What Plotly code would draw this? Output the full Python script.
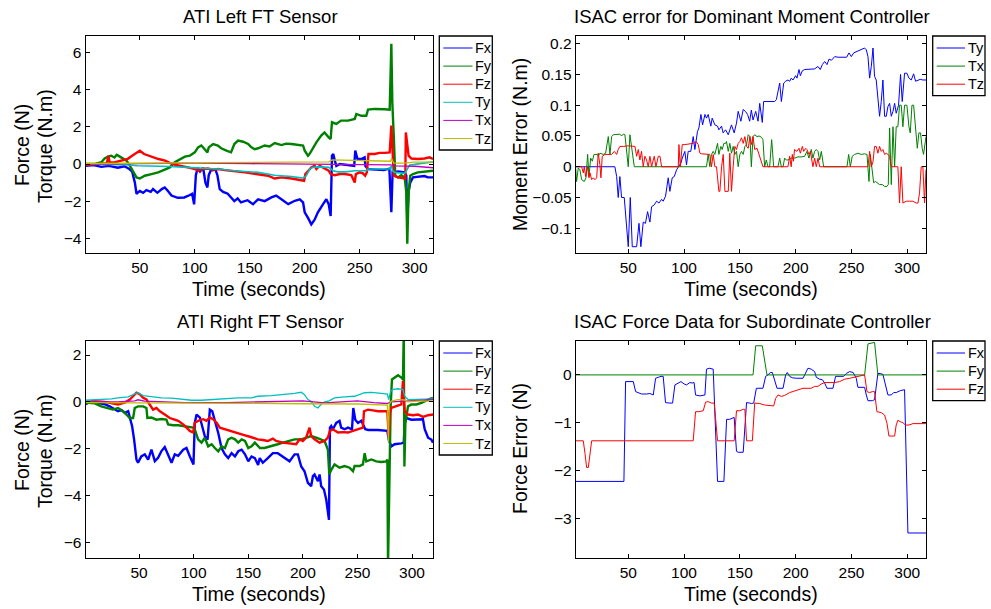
import plotly.graph_objects as go

W, H = 991, 609
FONT = "Liberation Sans, Arial, Helvetica, sans-serif"

# ---------------- data: ATI Left FT Sensor (time s, value) ----------------
LEFT_FX = [(0.6,-0.1),(8,-0.05),(15,-0.15),(22,-0.1),(30,-0.2),(36,-0.12),(40,-0.25),(43,-0.4),(45.5,-1.0),(47,-1.6),(50,-1.45),(53,-1.55),(56,-1.4),(60,-1.5),(62,-1.35),(66,-1.55),(70,-1.35),(72.7,-1.26),(75.6,-1.45),(78.8,-1.7),(84.5,-1.82),(90.5,-1.8),(95,-1.68),(97.6,-1.6),(99.4,-2.17),(101,-0.6),(102.7,-0.2),(104.8,-0.4),(107.6,-0.2),(109.7,-1.0),(111.5,-1.26),(112.7,-0.6),(114.5,-0.35),(118.8,-0.3),(120.6,-0.6),(122.7,-1.35),(125.8,-1.5),(130,-1.6),(133,-1.8),(136,-2.0),(139,-1.85),(142,-2.07),(148,-1.95),(153,-2.16),(157.6,-1.9),(163.6,-2.0),(169.7,-1.8),(174,-1.7),(178.8,-1.9),(185,-2.16),(191,-1.98),(195.5,-1.9),(198.5,-2.07),(200,-2.6),(203,-2.9),(206,-3.25),(209,-3.0),(212,-2.6),(216.7,-2.16),(219.7,-1.9),(221.8,-2.16),(223.6,-2.8),(224.8,0.45),(226,0.54),(227.3,0.2),(228.8,-0.1),(232,0.0),(240,-0.05),(245,-0.1),(246,0.72),(248,0.27),(251.5,0.27),(254.5,0.36),(255.2,-0.1),(257.6,-0.27),(265,-0.3),(272,-0.32),(277,-0.25),(278.8,-2.6),(280,-0.35),(281.5,-0.45),(284.8,-0.4),(290.9,-0.45),(292.4,-0.62),(293.3,-3.0),(294.5,-1.5),(296,-1.0),(298.5,-0.72),(303,-0.7),(309,-0.65),(312,-0.72),(316.7,-0.72)]
LEFT_FY = [(0.6,0.0),(10,0.02),(15,0.1),(18,0.3),(21,0.4),(24,0.45),(27,0.35),(29,0.5),(31.8,0.4),(35,0.27),(37.9,0.18),(41,-0.1),(44,-0.45),(47,-0.72),(50,-0.78),(54.5,-0.63),(60.6,-0.54),(66.7,-0.45),(72.7,-0.3),(77.3,-0.18),(81.8,0.1),(86.4,0.27),(91,0.4),(95.5,0.45),(100,0.63),(103,0.9),(106,1.0),(109,0.8),(111.5,0.63),(112.7,0.9),(116.7,1.08),(121,1.0),(124,0.85),(128.8,0.72),(133,0.63),(136,1.08),(139.4,1.26),(144,1.2),(148.5,1.08),(151.5,0.9),(154.5,0.8),(157.6,0.85),(163.6,1.0),(168,0.95),(172.7,1.13),(178.8,1.02),(183,1.1),(188,1.08),(195.5,1.05),(198.5,1.0),(200,0.72),(203,0.45),(204.5,0.55),(206,0.72),(210.6,1.17),(215,1.53),(218,1.7),(221.8,1.44),(223.6,1.35),(224.8,2.25),(228.8,2.16),(233,2.34),(239.4,2.34),(245.5,2.43),(247,2.7),(251.5,2.6),(256,2.6),(257.6,2.93),(263.6,2.97),(272.7,2.95),(277.3,2.93),(278.8,6.48),(279.7,3.3),(281,1.53),(282.4,-0.63),(284.8,-0.72),(287.9,-0.6),(290.9,-0.72),(292.4,-1.53),(293.3,-4.3),(294.5,-1.53),(296,-0.63),(298.5,-0.54),(303,-0.45),(309,-0.4),(313.6,-0.36),(316.7,-0.36)]
LEFT_FZ = [(0.6,-0.05),(12,0.0),(20,0.05),(21.5,0.45),(22.5,0.1),(26,0.08),(32.7,0.18),(38.8,0.27),(43,0.45),(47.8,0.63),(50,0.72),(53.9,0.54),(58,0.45),(62.9,0.36),(67,0.27),(73,0.18),(77.6,0.05),(83,-0.05),(87.6,-0.09),(93.7,-0.18),(100,-0.27),(103,-0.36),(107.5,-0.27),(112,-0.24),(116.7,-0.31),(121.2,-0.27),(127.3,-0.33),(133.3,-0.36),(139.4,-0.42),(145.5,-0.45),(151.5,-0.5),(157.6,-0.54),(166.7,-0.63),(172.7,-0.78),(178.8,-0.72),(188,-0.78),(197,-0.85),(199.4,-0.9),(200.6,-0.54),(203,-0.36),(206,-0.18),(209,-0.09),(210.6,-0.27),(213.6,-0.09),(216.7,-0.18),(219.7,-0.27),(221.8,-0.36),(223.6,-0.54),(227.3,-0.6),(232,-0.54),(236.4,-0.54),(242.4,-0.6),(245.5,-1.0),(246.5,-0.54),(250,-0.45),(253,-0.5),(255,-0.63),(256.5,-0.45),(258,0.54),(263.6,0.54),(268,0.6),(272.7,0.6),(277.3,0.63),(278.8,2.07),(280,0.54),(281,-0.63),(284.8,-0.72),(289.4,-0.78),(291.5,-0.78),(292,1.7),(293.3,1.17),(294.5,0.45),(297,0.3),(303,0.27),(309,0.3),(313.6,0.36),(316.7,0.27)]
LEFT_TY = [(0.6,0.0),(20,-0.02),(41,-0.05),(47.8,-0.09),(62,-0.09),(77.6,-0.13),(93,-0.18),(108,-0.22),(121,-0.27),(136,-0.36),(151.5,-0.45),(157.6,-0.45),(172.7,-0.6),(188,-0.67),(198.5,-0.76),(201.5,-0.63),(204.5,-0.27),(207.5,-0.18),(212.4,-0.15),(218.6,-0.18),(221.8,-0.18),(224.2,-0.27),(225.8,-0.36),(230.3,-0.42),(237,-0.42),(245.5,-0.36),(256,-0.36),(257.6,-0.27),(266.7,-0.27),(277.3,-0.27),(278.8,-0.1),(280,-0.36),(281.8,-0.45),(290.9,-0.5),(292.4,-0.36),(295.5,-0.05),(300,-0.02),(306,0.03),(313.6,0.09),(316.7,0.12)]
LEFT_TX = [(0.6,0.0),(50,0.02),(100,0.05),(150,0.02),(200,0.0),(250,-0.02),(278,-0.05),(282,-0.1),(290,-0.1),(300,-0.12),(316.7,-0.2)]
LEFT_TZ = [(0.6,0.03),(50,0.05),(100,0.1),(150,0.1),(200,0.12),(222,0.12),(225,0.22),(250,0.18),(278,0.15),(279,0.3),(281,0.05),(290,0.05),(300,0.1),(316.7,0.1)]

# ---------------- data: ISAC error for Dominant Moment Controller ----------------
DOM_TY = [(2.9,0),(38,0),(39.6,-0.016),(41,-0.05),(42.5,-0.016),(44,-0.05),(46.4,-0.05),(50,-0.13),(51.8,-0.05),(53.6,-0.13),(57.5,-0.13),(59.6,-0.092),(61.3,-0.13),(63.4,-0.09),(65.4,-0.092),(67.3,-0.073),(69.4,-0.09),(70.9,-0.065),(73.3,-0.062),(75.4,-0.056),(77.5,-0.059),(79.9,-0.053),(81.3,-0.056),(83.4,-0.048),(85.8,-0.018),(87.3,-0.04),(89.4,-0.018),(91.2,-0.016),(93.3,-0.005),(95.4,0),(97.2,0.006),(98.4,0.014),(100.7,0.025),(102.2,0.003),(103.7,0.025),(106,0.025),(108.2,0.049),(109.7,0.028),(112,0.057),(113.3,0.063),(115.1,0.085),(116.6,0.068),(118.7,0.085),(120.1,0.079),(121.6,0.085),(124,0.066),(125.2,0.079),(127.6,0.068),(130,0.066),(131.2,0.06),(133.6,0.066),(135,0.055),(137.2,0.06),(139.6,0.052),(142.5,0.068),(144.9,0.055),(147,0.071),(148.5,0.09),(150.9,0.074),(153,0.093),(155,0.09),(156.9,0.085),(158.8,0.074),(160.3,0.092),(161.8,0.076),(164.2,0.09),(166.3,0.074),(167.8,0.103),(170.1,0.072),(171.3,0.106),(175.2,0.106),(181.2,0.106),(182.7,0.109),(185.7,0.136),(187.2,0.106),(189.3,0.136),(191,0.139),(193.1,0.141),(194.6,0.139),(196.1,0.144),(197.6,0.141),(200,0.148),(201.2,0.144),(203,0.158),(204.2,0.148),(206,0.156),(208.1,0.158),(211,0.158),(214,0.158),(217,0.159),(220,0.163),(222,0.158),(223.9,0.166),(226,0.171),(228.1,0.166),(229.9,0.175),(232,0.173),(235,0.179),(238,0.178),(241,0.178),(243.9,0.177),(245.7,0.178),(247.8,0.185),(249.9,0.179),(252,0.185),(254.3,0.187),(257.3,0.189),(259.7,0.191),(261.8,0.193),(263.3,0.19),(264.8,0.179),(266.3,0.144),(267.8,0.163),(269.3,0.193),(270.7,0.147),(272.2,0.141),(273.7,0.106),(275.2,0.082),(276.7,0.106),(278.2,0.141),(279.7,0.082),(281.2,0.082),(282.7,0.098),(284.2,0.103),(285.7,0.082),(287.2,0.09),(288.7,0.103),(290.1,0.087),(292.2,0.1),(294,0.15),(295.5,0.106),(297.6,0.152),(299.7,0.152),(301.5,0.144),(303.6,0.141),(305.7,0.151),(307.5,0.139),(309.6,0.141),(311.6,0.142),(314,0.141),(316.8,0.141)]
DOM_TX = [(2.9,-0.003),(3.7,-0.024),(5.2,-0.002),(6.7,-0.005),(8.2,-0.021),(10.6,-0.024),(12.1,-0.018),(13.6,0.02),(14.8,-0.016),(16.3,0.014),(17.8,0.009),(19.3,0.02),(22.2,0.02),(23.1,0.017),(24.6,0.022),(27.6,0.02),(29.7,0.022),(32.1,0.049),(33.6,0.02),(35.1,0.049),(36.6,0.052),(39.6,0.052),(42.5,0.053),(44,0.05),(45.5,0.053),(47,0.052),(48.5,0.02),(50,0),(51.5,0.052),(53.6,0.02),(55.4,0),(120.1,0),(121.6,0.02),(123.1,0),(124.6,0.02),(126.1,0.025),(127.6,0.02),(130,0.038),(131.2,0.02),(133,0.033),(134.2,0.028),(135.7,0.038),(137.2,0.038),(138,0.041),(139.6,0.025),(141,0.038),(142.5,0.022),(144,0.033),(145.5,0.02),(147,0.025),(148.5,0),(150,0.02),(151.5,0.025),(153,0.02),(154.5,0.033),(156,0.036),(157.5,0.052),(159,0.049),(160.3,0),(161.8,0.049),(163.3,0.052),(165.4,0.049),(167.2,0.05),(169.3,0.048),(170.7,0.044),(172.2,0),(173.7,0.011),(175.2,0),(176.7,0),(178.5,0.044),(180.3,0),(184.2,0),(185.7,0.014),(187.2,0),(188.7,0),(190.1,0.014),(191.6,0.011),(193.1,0.011),(196.1,0.014),(199.1,0.014),(202.1,0.016),(205.1,0.016),(208.1,0.017),(210.1,0.025),(211.9,0.014),(214,0.028),(215.5,0.014),(217,0.025),(218.5,0.028),(220,0.025),(221.5,0.011),(223,0.025),(225.1,0),(246,0),(247.5,0.02),(249,0),(250.7,0.017),(252.8,0.02),(255.8,0.022),(258.8,0.02),(261.8,0.021),(263.9,0.02),(264.8,0),(265.7,-0.024),(266.9,0.02),(268.4,0),(269.9,-0.026),(271.6,-0.024),(273.1,-0.026),(275.2,-0.029),(277.6,-0.029),(279.7,-0.032),(281.8,-0.032),(283,-0.029),(284.2,0.063),(285.7,-0.029),(287.2,0.065),(288.7,0),(290.1,0.065),(291.6,0.065),(293.1,0.1),(294.6,0.1),(296.1,0.065),(297.6,0.1),(299.7,0.1),(301.5,0.065),(302.7,0.055),(304.2,0.1),(305.7,0.1),(307.5,0.065),(309,0.03),(310.4,0.055),(311.9,0.055),(313.4,0.03),(314.6,0.02),(316.8,0.049)]
DOM_TZ = [(2.9,0),(8.2,0),(9.7,-0.01),(10.6,0),(11.8,-0.016),(13.6,0),(14.8,-0.018),(15.7,-0.01),(17.2,-0.021),(18.7,-0.018),(20.2,-0.021),(21.7,-0.018),(23.1,0.022),(24.6,0.003),(25.5,-0.018),(26.7,0.017),(29.1,0.02),(35.1,0.02),(37.5,0.025),(39.6,0.02),(41,0.028),(42.5,0.033),(45.5,0.033),(50,0.034),(56,0.033),(57.5,0.017),(59,0.028),(60.4,0.011),(61.9,0.025),(63.4,0),(64.9,0.017),(66.4,0.011),(67.9,0),(69.4,0.017),(70.9,0),(73.3,0.017),(74.8,0),(76.9,0.017),(78.4,0.017),(79.9,0),(94.8,0),(95.4,0.036),(96.6,0),(98.4,0.036),(100.7,0.036),(105.2,0.037),(108.2,0.038),(109.7,0.04),(111.2,0.04),(112.7,0.036),(114.2,0.022),(115.7,0.021),(120.1,0.021),(123.1,0.02),(124.6,0),(126.1,0.02),(127.6,0),(129.1,0),(131.2,-0.04),(132.1,-0.04),(133.6,0),(135.1,0.02),(136.6,-0.04),(139.6,-0.04),(141,0.022),(142.5,-0.04),(144,0),(145.5,0.033),(147,0.028),(148.5,0.038),(150,0.041),(151.5,0.047),(153,0.038),(154.5,0.049),(156,0.033),(157.5,0.03),(159,0.049),(160.3,0.036),(161.8,0.049),(163.3,0.028),(165.4,0.03),(167.5,0.017),(170.7,0),(193.1,0),(194.6,0.017),(196,0),(197,0.02),(198,0.009),(199,0.028),(201,0.025),(203,0.03),(204.2,0.022),(206,0.033),(207.2,0.025),(209,0.03),(210.1,0.028),(212,0.02),(213.2,0.025),(214.3,0.011),(215.5,0),(217,0.014),(218.5,0),(220,0.014),(221.5,0),(264.8,0),(266.3,0.025),(267.8,0),(269.3,0.008),(270.7,0.033),(272.2,0.033),(273.7,0.022),(275.2,0.033),(276.7,0.025),(278.2,0.028),(279.7,0.02),(281.2,0.022),(282.7,0.02),(284.2,0.017),(285.7,0),(291.6,0),(293.1,-0.059),(294.6,0),(296.1,-0.059),(299.1,-0.056),(302,-0.056),(305,-0.056),(308,-0.059),(309.6,-0.059),(311,-0.043),(312.5,0),(314,0),(315.5,-0.059),(316.8,-0.005)]

# ---------------- data: ATI Right FT Sensor ----------------
RIGHT_FX = [(0.9,-0.1),(7,0.03),(13,-0.05),(18.5,-0.1),(23,-0.19),(27.7,-0.33),(30.7,-0.4),(33.8,-0.35),(36.9,-0.47),(40,-0.4),(41.4,-0.61),(43.6,-1.04),(45.4,-1.6),(47.6,-2.47),(49,-2.6),(52,-2.33),(55.2,-2.24),(58.3,-2.47),(61.3,-2.04),(64.4,-2.53),(67.4,-2.39),(70.5,-2.1),(73.5,-1.93),(76.6,-2.24),(79.7,-2.6),(82.7,-2.24),(85.8,-2.3),(90.4,-2.04),(93.4,-1.97),(96.5,-2.33),(98.6,-2.54),(99.8,-2.67),(101,-0.9),(102.6,-0.54),(105.7,-0.67),(107.8,-1.1),(110.2,-1.47),(112.7,-1.61),(114.8,-0.33),(117,-0.4),(119.4,-0.76),(122.5,-1.33),(125.5,-1.97),(128.6,-2.24),(131.6,-2.4),(134.7,-2.19),(137.8,-2.33),(140.8,-2.11),(143.9,-2.04),(147,-2.24),(150,-2.54),(153,-2.33),(156,-2.4),(159,-2.69),(160.5,-2.4),(163.3,-2.6),(167.9,-2.4),(172.5,-2.19),(177,-2.19),(183,-2.4),(187.8,-2.54),(192.4,-2.24),(195.4,-2.24),(198.5,-2.76),(201.5,-2.96),(204.6,-3.46),(207.6,-3.6),(209.2,-3.17),(210.7,-3.1),(213.8,-3.39),(215.3,-3.1),(216.8,-3.6),(219.3,-3.74),(221.4,-4.17),(222.9,-4.76),(223.9,-5.04),(224.8,-1.1),(226,-1.03),(227.5,-1.17),(230.6,-0.9),(233.6,-0.81),(235.1,-1.1),(238.2,-1.17),(241.3,-1.1),(245,-1.17),(246.2,-0.26),(248,-0.76),(250.5,-0.9),(253.5,-0.81),(256,-1.1),(257.2,-1.17),(260,-1.2),(268.8,-1.2),(277.4,-1.24),(278.6,-1.6),(281,-1.9),(284.1,-1.81),(290.2,-1.77),(292.4,-1.74),(293.3,-0.9),(294.8,-0.69),(299.4,-0.76),(305.5,-0.76),(310,-0.74),(311.6,-1.17),(314.7,-1.53),(317.7,-1.61),(319.2,-1.74)]
RIGHT_FY = [(0.9,-0.03),(9.3,-0.06),(15.4,-0.19),(21.6,-0.26),(26,-0.33),(30.7,-0.26),(35.3,-0.4),(38.4,-0.54),(41.4,-0.69),(44.5,-0.69),(46,-0.26),(49,-0.19),(53.7,-0.19),(56.7,-0.26),(57.6,-0.69),(61.3,-0.67),(65.9,-0.76),(70.5,-0.73),(75,-0.76),(76.6,-0.96),(81.2,-1.0),(85.8,-1.0),(90.4,-1.03),(95,-1.06),(99.5,-1.1),(101,-1.17),(102.6,-1.46),(104,-1.6),(107.2,-1.74),(110.2,-1.53),(113.3,-1.9),(116.4,-1.81),(119.4,-1.97),(122.5,-2.11),(125.5,-1.9),(128.6,-1.97),(131.6,-1.6),(134.7,-1.53),(137.8,-1.6),(140.8,-1.74),(143.9,-1.6),(147,-1.67),(150,-1.97),(153,-1.9),(156,-1.74),(158.7,-1.9),(160.7,-1.97),(164.8,-1.97),(171,-1.9),(177,-1.81),(181.7,-1.74),(186.2,-1.67),(192.4,-1.6),(198.5,-1.6),(203,-1.53),(207.6,-1.46),(212.2,-1.53),(216.8,-1.6),(219.9,-1.67),(222.9,-2.04),(224.2,-3.1),(226,-2.9),(229,-2.67),(233.6,-2.81),(238.2,-2.74),(242.8,-2.81),(245.9,-2.96),(247.4,-2.74),(252,-2.74),(255,-2.67),(256.6,-2.19),(258.1,-2.54),(262.7,-2.46),(267.3,-2.54),(271.9,-2.57),(276.5,-2.54),(277.4,-2.46),(278,-7.0),(279,-3.7),(280.4,-0.19),(281.6,0.96),(284.1,1.04),(287.2,1.14),(290.2,1.04),(291.7,0.96),(292.4,3.0),(293,-2.76),(293.9,-0.9),(296.3,-0.19),(299.4,-0.11),(304,-0.11),(308.6,-0.04),(311.6,0.03),(316.2,0.13),(319.2,0.17)]
RIGHT_FZ = [(0.9,0.0),(9.8,0.03),(18.5,0.0),(24.6,-0.06),(30.7,-0.11),(36.9,-0.03),(41.4,0.1),(44.5,0.24),(47.6,0.39),(50.6,0.33),(53.7,0.17),(56.7,0.1),(59.8,-0.11),(62.8,-0.33),(65.9,-0.26),(69,-0.4),(73.5,-0.54),(78.1,-0.69),(81.2,-0.74),(85.8,-0.81),(90.4,-0.96),(93.4,-1.1),(96.5,-1.24),(99.5,-1.31),(101,-0.89),(104,-0.81),(108.7,-0.74),(111.7,-0.81),(114.8,-0.67),(117.8,-0.74),(121,-0.89),(124,-1.1),(128.6,-1.17),(133.2,-1.24),(137.8,-1.31),(142.4,-1.39),(147,-1.43),(151.5,-1.49),(156,-1.57),(158.7,-1.6),(163.3,-1.63),(167.9,-1.67),(172.5,-1.57),(175.5,-1.67),(181.7,-1.74),(187.8,-1.77),(193.9,-1.81),(197,-1.6),(200,-1.67),(203,-1.53),(206.1,-1.1),(207.6,-1.46),(210.7,-1.6),(215.3,-1.74),(219.9,-1.67),(222.9,-1.53),(224.8,-1.24),(227.5,-1.17),(232.1,-1.31),(236.7,-1.29),(241.3,-1.31),(245.9,-1.24),(250.5,-1.17),(255,-1.1),(256,-0.4),(259.6,-0.33),(264.2,-0.36),(268.8,-0.4),(273.4,-0.4),(277.4,-0.4),(278.6,-1.47),(279.8,-0.46),(281,-0.26),(285.6,-0.19),(290.2,-0.11),(291.7,0.9),(293.3,-0.4),(296.3,-0.54),(301,-0.57),(305.5,-0.54),(310,-0.64),(314.7,-0.57),(319.2,-0.54)]
RIGHT_TY = [(0.9,0.07),(15.4,0.1),(24.6,0.13),(30.7,0.17),(40,0.21),(46,0.34),(49,0.39),(53.7,0.27),(61.3,0.21),(70.5,0.17),(79.7,0.16),(88.8,0.1),(98,0.07),(107,0.07),(116.4,0.1),(128.6,0.13),(140.8,0.17),(153,0.17),(158.7,0.24),(171,0.27),(183,0.31),(192.4,0.36),(198.5,0.41),(201.5,0.31),(204.6,0.1),(207.6,0.03),(210.7,-0.19),(213.8,-0.26),(216.8,-0.1),(219.9,0.0),(224,0.04),(229,0.17),(238.2,0.21),(247.4,0.24),(256.6,0.39),(262.7,0.41),(271.9,0.36),(277.4,0.33),(278.6,0.1),(280.4,0.46),(282.6,0.53),(287.2,0.56),(291.7,0.53),(293.3,0.24),(296.3,0.1),(305.5,0.1),(319.2,0.13)]
RIGHT_TX = [(0.9,0.0),(30,0.0),(46,0.04),(49,0.09),(55,0.03),(92,-0.03),(130,-0.03),(160,0.0),(190,0.03),(200,0.04),(210,0.0),(220,-0.04),(235,0.0),(250,0.04),(265,-0.03),(277,-0.07),(281,0.0),(293,0.04),(305,0.06),(319.2,0.1)]
RIGHT_TZ = [(0.9,-0.03),(50,-0.03),(100,-0.04),(150,-0.06),(200,-0.08),(250,-0.09),(277.4,-0.14),(278.3,-1.7),(279.2,-0.1),(281,0.03),(287,0.1),(293,0.08),(296,0.0),(305,0.03),(319.2,0.03)]

# ---------------- data: ISAC Force Data for Subordinate Controller ----------------
SUB_FX = [(2.9,-2.23),(46.1,-2.23),(47.6,-0.14),(54.5,-0.14),(56.6,-0.35),(59,-0.37),(61.9,-0.4),(66.4,-0.4),(69.4,-0.39),(72.4,-0.42),(74.5,-0.07),(76.9,-0.05),(79.3,-0.03),(81.3,-0.03),(83.4,-0.58),(87.3,-0.59),(89.7,-0.59),(91.8,-0.21),(94.8,-0.17),(97.2,-0.14),(100.1,-0.19),(102.2,-0.21),(105.2,-0.16),(107.3,-0.17),(109,-0.16),(110.3,-0.42),(114.2,-0.44),(117.2,-0.42),(118.7,-0.42),(120.1,0.12),(122.5,0.14),(126.1,0.12),(130,-2.23),(135.7,-2.23),(138.1,-0.93),(141,-0.93),(144.9,-0.89),(147,-1.6),(148.5,-1.62),(153,-1.62),(156,-0.58),(159,-0.59),(160.3,-0.6),(162.4,-0.59),(164.8,-0.28),(170.7,-0.28),(173.1,-0.03),(175.2,0.0),(177.3,0.05),(179.1,0.05),(181.2,-0.1),(183.3,-0.28),(188.7,-0.28),(191,0.0),(192.5,0.05),(194.6,-0.03),(197,-0.06),(200.6,-0.07),(206.6,-0.07),(209,0.03),(211,0.14),(214,0.12),(217,0.07),(218.5,-0.05),(221.5,-0.09),(223.9,-0.1),(226,-0.17),(228.1,-0.28),(233.4,-0.28),(235.8,-0.03),(240.9,-0.02),(243,-0.03),(245.4,0.03),(248.4,0.07),(251.5,0.05),(254.3,-0.07),(255.8,-0.26),(261.8,-0.26),(263.3,-0.42),(264.8,-0.54),(268.7,-0.54),(270.7,-0.52),(273.7,0.03),(275.8,0.03),(278.2,0.01),(280.6,-0.24),(282.7,-0.42),(285.7,-0.42),(287.8,-0.37),(290.1,-0.37),(293.7,-0.33),(297.6,-0.31),(300.6,-3.31),(316.8,-3.31)]
SUB_FY = [(2.9,0),(161.8,0),(164.2,0.61),(170.1,0.61),(174.3,0),(261.8,0),(264.8,0.65),(267.8,0.67),(270.7,0.68),(273.7,0),(316.8,0)]
SUB_FZ = [(2.9,-1.38),(9.7,-1.38),(11.2,-1.64),(12.7,-1.94),(14.2,-1.94),(15.7,-1.64),(17.2,-1.38),(108.2,-1.38),(110.3,-0.77),(113.3,-0.77),(117.2,-0.75),(119.3,-0.57),(121.6,-0.56),(124.6,-0.59),(127,-0.59),(130,-1.38),(144.9,-1.38),(147,-0.75),(150,-0.75),(153,-0.72),(154.5,-0.72),(156,-1.38),(161.2,-1.38),(163.3,-0.59),(167.8,-0.6),(172.2,-0.63),(176.7,-0.65),(180.3,-0.65),(182.1,-0.49),(184.2,-0.42),(187.2,-0.45),(190.1,-0.43),(194.6,-0.37),(199.1,-0.33),(203.6,-0.3),(206.6,-0.28),(214,-0.28),(217,-0.24),(220,-0.24),(223,-0.19),(226,-0.16),(234.9,-0.16),(239.4,-0.14),(243.9,-0.09),(248.4,-0.07),(252.8,-0.05),(257.3,-0.02),(261.8,0.0),(263.9,-0.35),(266.3,-0.37),(268.7,-0.35),(270.7,-0.35),(272.8,-0.77),(276.7,-0.79),(279.7,-0.84),(281.8,-1.01),(283.6,-1.28),(288.7,-1.28),(290.1,-1.05),(291.6,-0.95),(293.7,-0.98),(296.1,-1.0),(298.4,-1.05),(301.5,-1.05),(305.1,-1.02),(316.8,-1.02)]

TITLES = ["ATI Left FT Sensor", "ISAC error for Dominant Moment Controller",
          "ATI Right FT Sensor", "ISAC Force Data for Subordinate Controller"]
X_TICKS = [50, 100, 150, 200, 250, 300]
Y_TICKS_TL = [-4, -2, 0, 2, 4, 6]
Y_TICKS_TR = [-0.1, -0.05, 0, 0.05, 0.1, 0.15, 0.2]
Y_TICKS_BL = [-6, -4, -2, 0, 2]
Y_TICKS_BR = [-3, -2, -1, 0]

BLUE, GREEN, RED = "#0000ff", "#008000", "#ff0000"
CYAN, MAG, YEL = "#00bfbf", "#bf00bf", "#bfbf00"

fig = go.Figure()

def add(series, name, color, width, xa, ya):
    fig.add_trace(go.Scatter(x=[p[0] for p in series], y=[p[1] for p in series],
                             mode="lines", line=dict(color=color, width=width),
                             name=name, showlegend=False, xaxis=xa, yaxis=ya,
                             hoverinfo="skip"))

LEG_TL = [("Fx", BLUE), ("Fy", GREEN), ("Fz", RED), ("Ty", CYAN), ("Tx", MAG), ("Tz", YEL)]
LEG_TR = [("Ty", BLUE), ("Tx", GREEN), ("Tz", RED)]
LEG_BR = [("Fx", BLUE), ("Fy", GREEN), ("Fz", RED)]

for s, (n, c), w in zip([LEFT_FX, LEFT_FY, LEFT_FZ, LEFT_TY, LEFT_TX, LEFT_TZ], LEG_TL,
                        [2.4, 2.4, 2.4, 1.6, 1.3, 1.3]):
    add(s, n, c, w, "x", "y")
for s, (n, c) in zip([DOM_TY, DOM_TX, DOM_TZ], LEG_TR):
    add(s, n, c, 1, "x2", "y2")
for s, (n, c), w in zip([RIGHT_FX, RIGHT_FY, RIGHT_FZ, RIGHT_TY, RIGHT_TX, RIGHT_TZ], LEG_TL,
                        [2.4, 2.4, 2.4, 1.3, 1.3, 1.3]):
    add(s, n, c, w, "x3", "y3")
for s, (n, c) in zip([SUB_FX, SUB_FY, SUB_FZ], LEG_BR):
    add(s, n, c, 1, "x4", "y4")

LX = [85.5 / W, 433 / W]
RX = [575.7 / W, 926 / W]
TY = [1 - 253.3 / H, 1 - 36 / H]
BY = [1 - 558.3 / H, 1 - 341 / H]

def ax(domain, rng, ticks, anchor, ticktext=None):
    d = dict(domain=domain, range=rng, anchor=anchor, showline=True, linecolor="black",
             linewidth=1, mirror="allticks", ticks="inside", ticklen=4, tickcolor="black",
             tickwidth=1, showgrid=False, zeroline=False, tickvals=ticks,
             tickfont=dict(family=FONT, size=15.5, color="black"), fixedrange=True)
    if ticktext is not None:
        d["ticktext"] = ticktext
    return d

fmt = lambda v: ("\u2212" if v < 0 else "") + ("%g" % abs(v))

fig.update_layout(
    width=W, height=H, margin=dict(l=0, r=0, t=0, b=0), autosize=False,
    paper_bgcolor="white", plot_bgcolor="white", showlegend=False,
    font=dict(family=FONT, color="black"),
    xaxis=ax(LX, [0.6, 316.7], X_TICKS, "y"),
    yaxis=ax(TY, [-4.81, 6.9], Y_TICKS_TL, "x", [fmt(v) for v in Y_TICKS_TL]),
    xaxis2=ax(RX, [2.9, 316.8], X_TICKS, "y2"),
    yaxis2=ax(TY, [-0.1407, 0.2125], Y_TICKS_TR, "x2", [fmt(v) for v in Y_TICKS_TR]),
    xaxis3=ax(LX, [0.9, 319.2], X_TICKS, "y3"),
    yaxis3=ax(BY, [-6.68, 2.6], Y_TICKS_BL, "x3", [fmt(v) for v in Y_TICKS_BL]),
    xaxis4=ax(RX, [2.9, 316.8], X_TICKS, "y4"),
    yaxis4=ax(BY, [-3.84, 0.71], Y_TICKS_BR, "x4", [fmt(v) for v in Y_TICKS_BR]),
)

def px(x):
    return x / W

def py(y):
    return 1 - y / H

def legend_box(items, x0, x1, y0, y1, lx0, lx1, first_y, step):
    fig.add_shape(type="rect", xref="paper", yref="paper", x0=px(x0), x1=px(x1),
                  y0=py(y1), y1=py(y0), line=dict(color="black", width=1.3),
                  fillcolor="white", layer="above")
    for i, (name, color) in enumerate(items):
        yy = first_y + i * step
        fig.add_shape(type="line", xref="paper", yref="paper", x0=px(lx0), x1=px(lx1),
                      y0=py(yy), y1=py(yy), line=dict(color=color, width=1), layer="above")
        fig.add_annotation(text=name, x=px(lx1 + 0.5), y=py(yy), xref="paper", yref="paper",
                           xanchor="left", yanchor="middle", showarrow=False,
                           font=dict(family=FONT, size=14.5, color="black"))

legend_box(LEG_TL, 439.3, 492.3, 36, 150, 443.3, 472.5, 48, 18.1)
legend_box(LEG_TR, 932.7, 985, 36, 95.7, 936.7, 965, 48, 18.1)
legend_box(LEG_TL, 439.3, 492.3, 341, 455, 443.3, 472.5, 353, 18.1)
legend_box(LEG_BR, 932.7, 985, 341, 400.7, 936.7, 965, 353, 18.1)

def ann(text, x, y, size, angle=0):
    fig.add_annotation(text=text, x=px(x), y=py(y), xref="paper", yref="paper",
                       xanchor="center", yanchor="middle", showarrow=False, textangle=angle,
                       font=dict(family=FONT, size=size, color="black"))

ann(TITLES[0], 260, 16.5, 18.5)
ann(TITLES[1], 752, 16.5, 18.5)
ann(TITLES[2], 260, 321.5, 18.5)
ann(TITLES[3], 752, 321.5, 18.5)
for yc in (289, 594):
    ann("Time (seconds)", 259, yc, 19.5)
    ann("Time (seconds)", 751, yc, 19.5)
ann("Force (N)", 22, 145, 19.5, -90)
ann("Torque (N.m)", 45, 146, 19.5, -90)
ann("Force (N)", 22, 450, 19.5, -90)
ann("Torque (N.m)", 45, 451, 19.5, -90)
ann("Moment Error (N.m)", 520, 145, 19.5, -90)
ann("Force Error (N)", 520, 449, 19.5, -90)

fig.write_html("out.html", config={"displayModeBar": False},
               post_script="document.body.style.margin='0';document.body.style.overflow='hidden';")
